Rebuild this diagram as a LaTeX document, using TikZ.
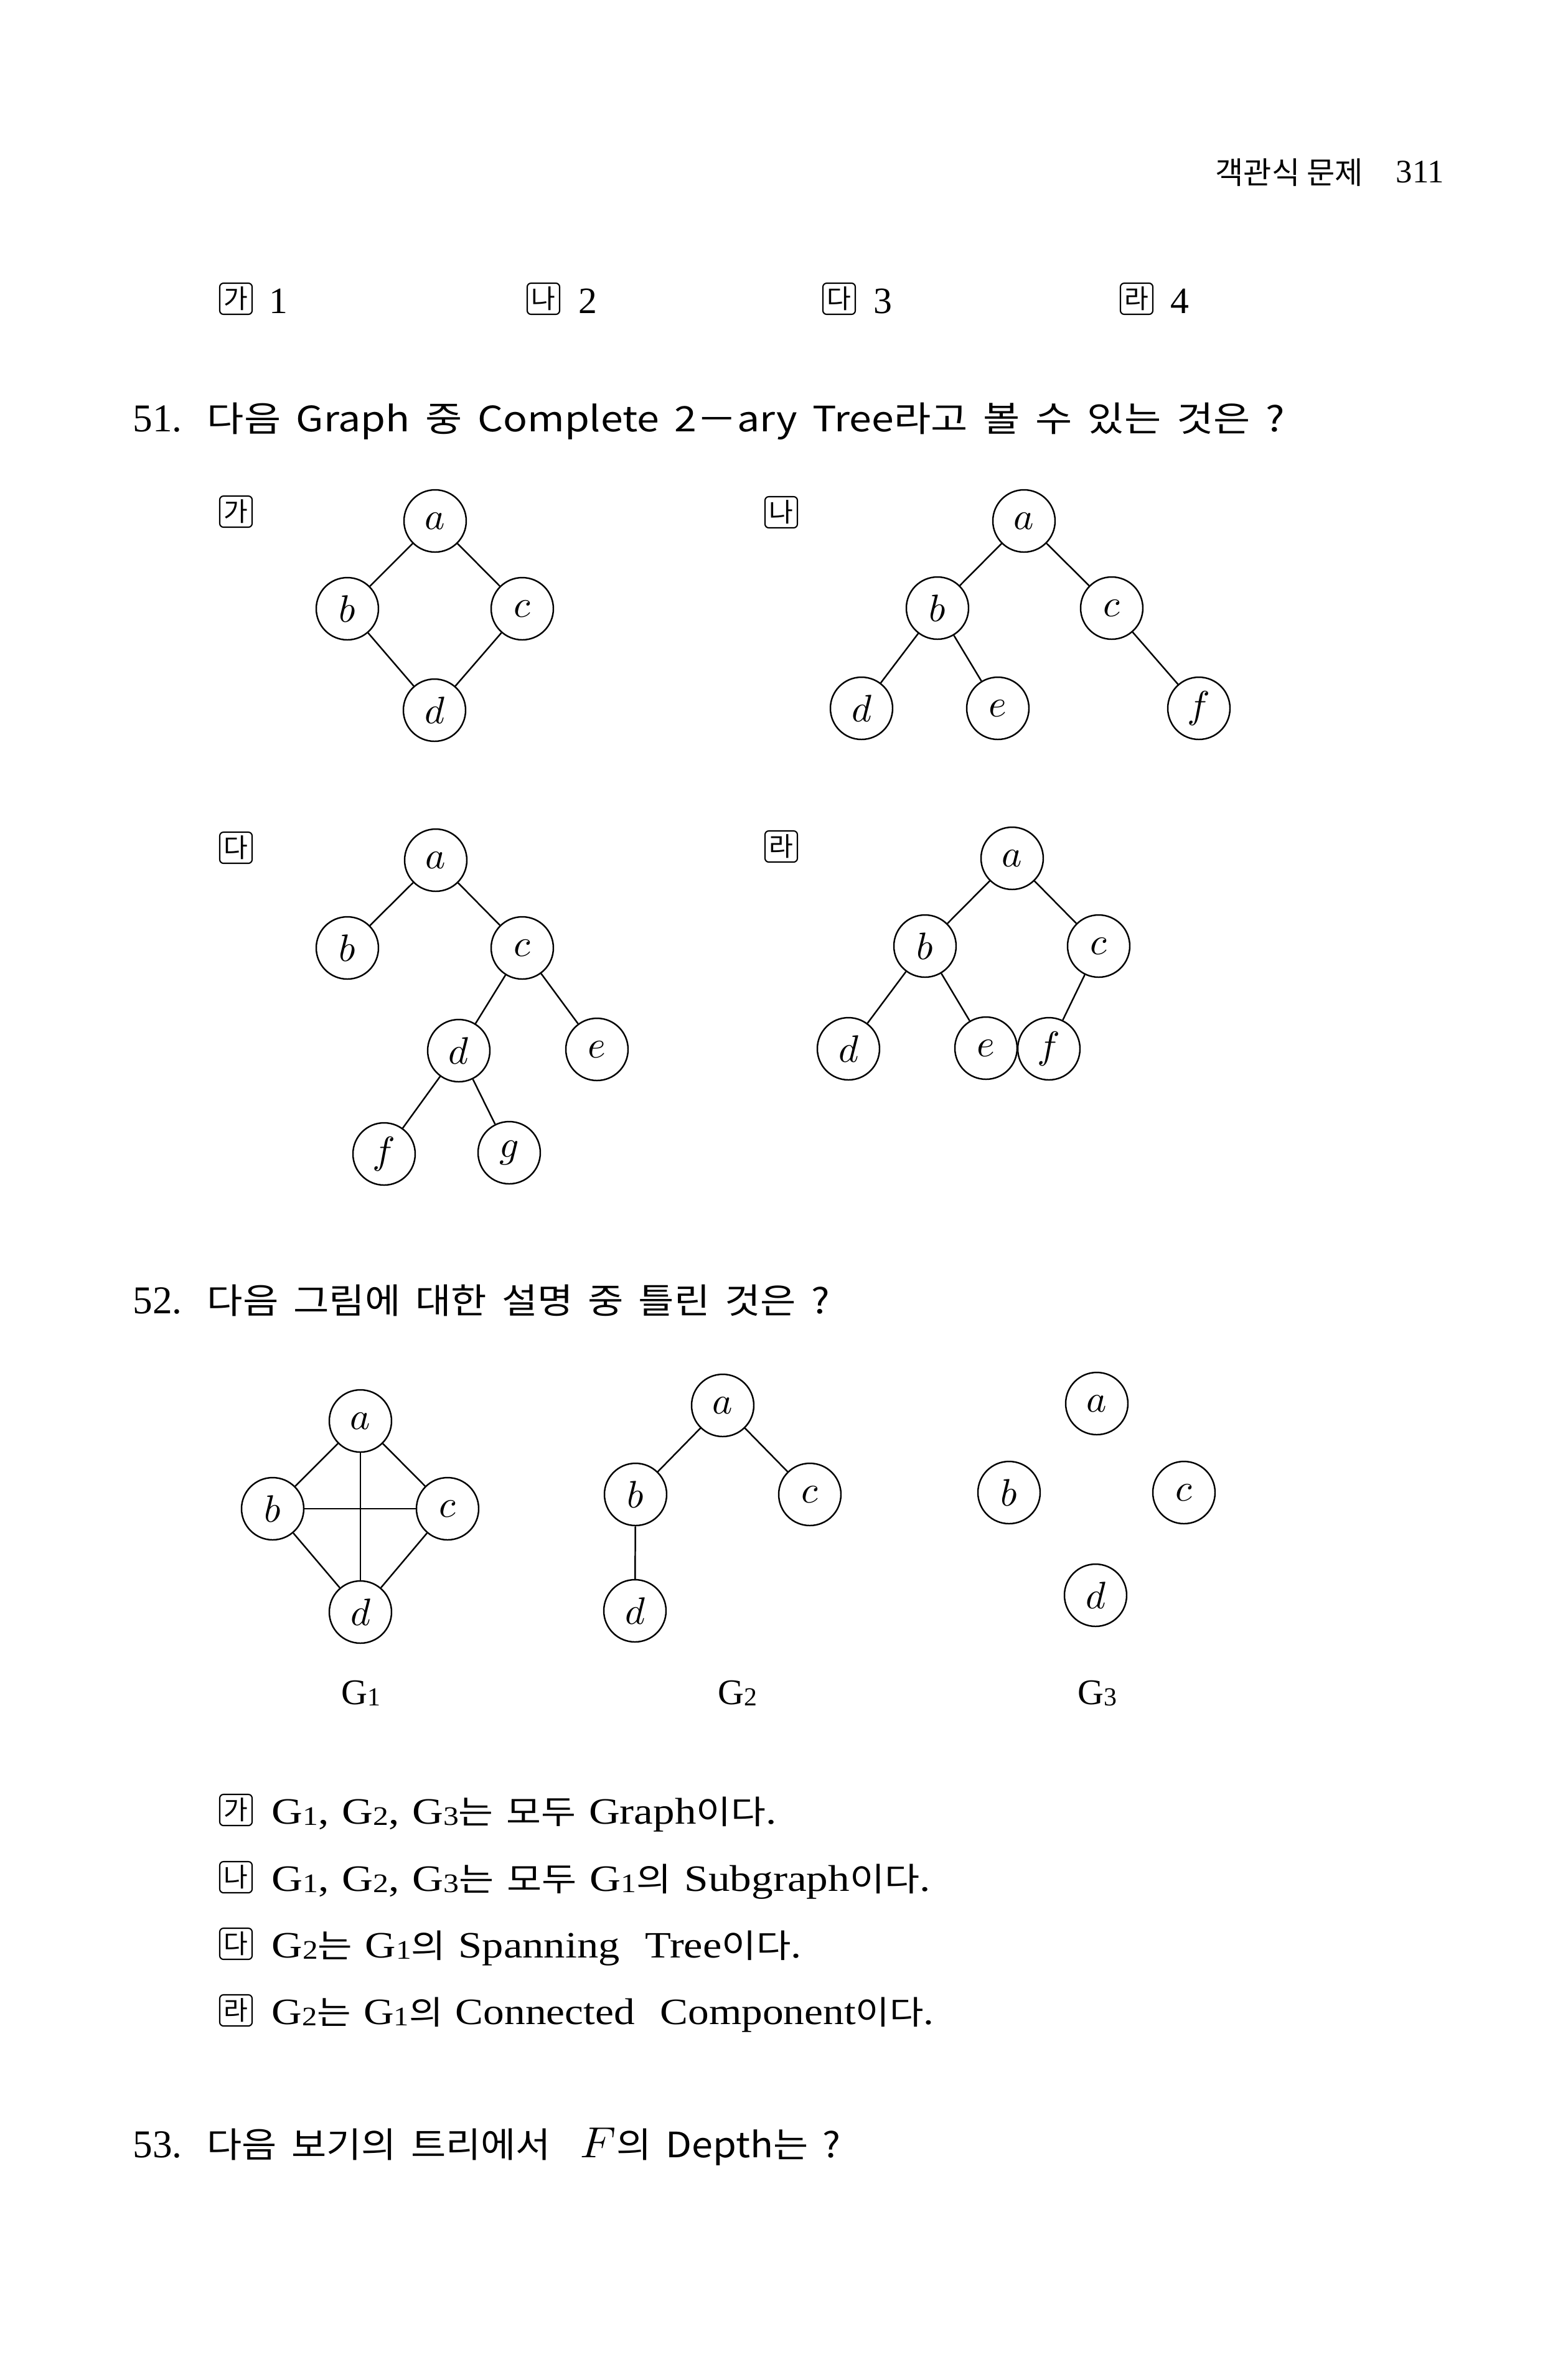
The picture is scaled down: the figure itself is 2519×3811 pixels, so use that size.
\documentclass[tikz,border=0pt]{standalone}
\usepackage{fontspec}
\setmainfont{Liberation Serif}
\newfontfamily\kr{Noto Sans CJK KR}
\newfontfamily\krs[Scale=0.88]{Noto Sans CJK KR}
\newcommand\sbx[1]{\raisebox{-0.25mm}{\scalebox{0.72}{#1}}}
\newcommand\vl[1]{\scalebox{1.75}{$#1$}}
\newsavebox\fitbox
\newdimen\fitdim
\newdimen\fittarget
\newcommand\fitw[3]{\sbox\fitbox{\spaceskip=#2\relax #3}\fitdim=\wd\fitbox\relax\fittarget=#1\relax\pgfmathparse{\the\fittarget/\the\fitdim}\let\fitfac\pgfmathresult\scalebox{\fitfac}[1]{\usebox\fitbox}}
\begin{document}
\begin{tikzpicture}[x=0.1mm,y=-0.1mm,
  vtx/.style={circle,draw,line width=0.7pt,minimum size=10mm,inner sep=0pt,font=\fontsize{10}{12}\selectfont},
  edge/.style={line width=0.7pt},
  kbox/.style={draw,line width=0.6pt,rounded corners=0.6mm,minimum width=5.2mm,minimum height=5mm,inner sep=0pt,font=\kr\fontsize{12}{14}\selectfont},
  txt/.style={anchor=base west,inner sep=0pt},
  ttl/.style={txt,font=\kr\fontsize{16}{18}\selectfont},
  ans/.style={txt,font=\fontsize{17}{20}\selectfont},
  glbl/.style={anchor=base,inner sep=0pt,font=\fontsize{16.5}{18}\selectfont}]
\fill[white] (0,0) rectangle (2519,3811);
\useasboundingbox (0,0) rectangle (2519,3811);

% header
\node[txt,font=\kr\fontsize{14}{16}\selectfont] (hdr) at (1952,295) {객관식 문제};
\node[txt,font=\fontsize{15}{18}\selectfont] (pg) at (2242,293) {311};

% answer row of question 50
\node[kbox] (r1) at (379,480) {가};
\node[txt,font=\fontsize{17}{20}\selectfont] (r1n) at (432,503) {1};
\node[kbox] (r2) at (873,480) {나};
\node[txt,font=\fontsize{17}{20}\selectfont] (r2n) at (929,503) {2};
\node[kbox] (r3) at (1348,480) {다};
\node[txt,font=\fontsize{17}{20}\selectfont] (r3n) at (1403,503) {3};
\node[kbox] (r4) at (1826,480) {라};
\node[txt,font=\fontsize{17}{20}\selectfont] (r4n) at (1880,503) {4};

% question 51
\node[txt,font=\fontsize{18}{20}\selectfont] (q51n) at (213,693) {51.};
\node[ttl] (q51) at (332,693) {\fitw{173.1mm}{0.38em}{다음 Graph 중 Complete 2－ary Tree라고 볼 수 있는 것은 ?}};

% (ga)
\node[kbox] (la) at (379,822) {가};
\node[vtx] (aa) at (699,837) {\vl{a}};
\node[vtx] (ab) at (558,978) {\vl{b}};
\node[vtx] (ac) at (839,978) {\vl{c}};
\node[vtx] (ad) at (698,1141) {\vl{d}};
\draw[edge] (aa) -- (ab);
\draw[edge] (aa) -- (ac);
\draw[edge] (ab) -- (ad);
\draw[edge] (ac) -- (ad);

% (na)
\node[kbox] (lb) at (1255,823) {나};
\node[vtx] (ba) at (1645,837) {\vl{a}};
\node[vtx] (bb) at (1506,977) {\vl{b}};
\node[vtx] (bc) at (1786,977) {\vl{c}};
\node[vtx] (bd) at (1384,1138) {\vl{d}};
\node[vtx] (be) at (1603,1138) {\vl{e}};
\node[vtx] (bf) at (1926,1138) {\vl{f}};
\draw[edge] (ba) -- (bb);
\draw[edge] (ba) -- (bc);
\draw[edge] (bb) -- (bd);
\draw[edge] (bb) -- (be);
\draw[edge] (bc) -- (bf);

% (da)
\node[kbox] (lc) at (379,1362) {다};
\node[vtx] (ca) at (700,1382) {\vl{a}};
\node[vtx] (cb) at (558,1523) {\vl{b}};
\node[vtx] (cc) at (839,1523) {\vl{c}};
\node[vtx] (cd) at (737,1688) {\vl{d}};
\node[vtx] (ce) at (959,1686) {\vl{e}};
\node[vtx] (cf) at (617,1854) {\vl{f}};
\node[vtx] (cg) at (818,1852) {\vl{g}};
\draw[edge] (ca) -- (cb);
\draw[edge] (ca) -- (cc);
\draw[edge] (cc) -- (cd);
\draw[edge] (cc) -- (ce);
\draw[edge] (cd) -- (cf);
\draw[edge] (cd) -- (cg);

% (ra)
\node[kbox] (ld) at (1255,1360) {라};
\node[vtx] (da) at (1626,1379) {\vl{a}};
\node[vtx] (db) at (1486,1520) {\vl{b}};
\node[vtx] (dc) at (1765,1520) {\vl{c}};
\node[vtx] (dd) at (1363,1685) {\vl{d}};
\node[vtx] (de) at (1584,1684) {\vl{e}};
\node[vtx] (df) at (1685,1685) {\vl{f}};
\draw[edge] (da) -- (db);
\draw[edge] (da) -- (dc);
\draw[edge] (db) -- (dd);
\draw[edge] (db) -- (de);
\draw[edge] (dc) -- (df);

% question 52
\node[txt,font=\fontsize{18}{20}\selectfont] (q52n) at (213,2110) {52.};
\node[ttl] (q52) at (332,2110) {\fitw{100mm}{0.38em}{다음 그림에 대한 설명 중 틀린 것은 ?}};

% G1
\node[vtx] (ea) at (579,2283) {\vl{a}};
\node[vtx] (eb) at (438,2424) {\vl{b}};
\node[vtx] (ec) at (719,2424) {\vl{c}};
\node[vtx] (ed) at (579,2590) {\vl{d}};
\draw[edge] (ea) -- (eb);
\draw[edge] (ea) -- (ec);
\draw[edge] (eb) -- (ed);
\draw[edge] (ec) -- (ed);
\draw[edge] (ea) -- (ed);
\draw[edge] (eb) -- (ec);
\node[glbl] (g1) at (580,2738) {G\sbx{1}};

% G2
\node[vtx] (fa) at (1161,2258) {\vl{a}};
\node[vtx] (fb) at (1021,2401) {\vl{b}};
\node[vtx] (fc) at (1301,2401) {\vl{c}};
\node[vtx] (fd) at (1020,2588) {\vl{d}};
\draw[edge] (fa) -- (fb);
\draw[edge] (fa) -- (fc);
\draw[edge] (fb) -- (fd);
\node[glbl] (g2) at (1185,2738) {G\sbx{2}};

% G3
\node[vtx] (ga) at (1762,2255) {\vl{a}};
\node[vtx] (gb) at (1621,2398) {\vl{b}};
\node[vtx] (gc) at (1902,2398) {\vl{c}};
\node[vtx] (gd) at (1760,2563) {\vl{d}};
\node[glbl] (g3) at (1763,2738) {G\sbx{3}};

% statements
\node[kbox] (sa) at (379,2908) {가};
\node[ans] (ta) at (436,2930) {\fitw{81.1mm}{0.3em}{G\sbx{1}, G\sbx{2}, G\sbx{3}{\krs 는} {\krs 모두} Graph{\krs 이다}.}};
\node[kbox] (sb) at (379,3016) {나};
\node[ans] (tb) at (436,3038) {\fitw{105.8mm}{0.3em}{G\sbx{1}, G\sbx{2}, G\sbx{3}{\krs 는} {\krs 모두} G\sbx{1}{\krs 의} Subgraph{\krs 이다}.}};
\node[kbox] (sc) at (379,3123) {다};
\node[ans] (tc) at (436,3145) {\fitw{85.1mm}{0.3em}{G\sbx{2}{\krs 는} G\sbx{1}{\krs 의} Spanning~~Tree{\krs 이다}.}};
\node[kbox] (sd) at (379,3230) {라};
\node[ans] (td) at (436,3252) {\fitw{106.4mm}{0.3em}{G\sbx{2}{\krs 는} G\sbx{1}{\krs 의} Connected~~Component{\krs 이다}.}};

% question 53
\node[txt,font=\fontsize{18}{20}\selectfont] (q53n) at (213,3466) {53.};
\node[ttl] (q53) at (332,3466) {\fitw{101.8mm}{0.38em}{다음 보기의 트리에서 ~\scalebox{1.15}{$F$}의 Depth는 ?}};
\end{tikzpicture}
\end{document}
